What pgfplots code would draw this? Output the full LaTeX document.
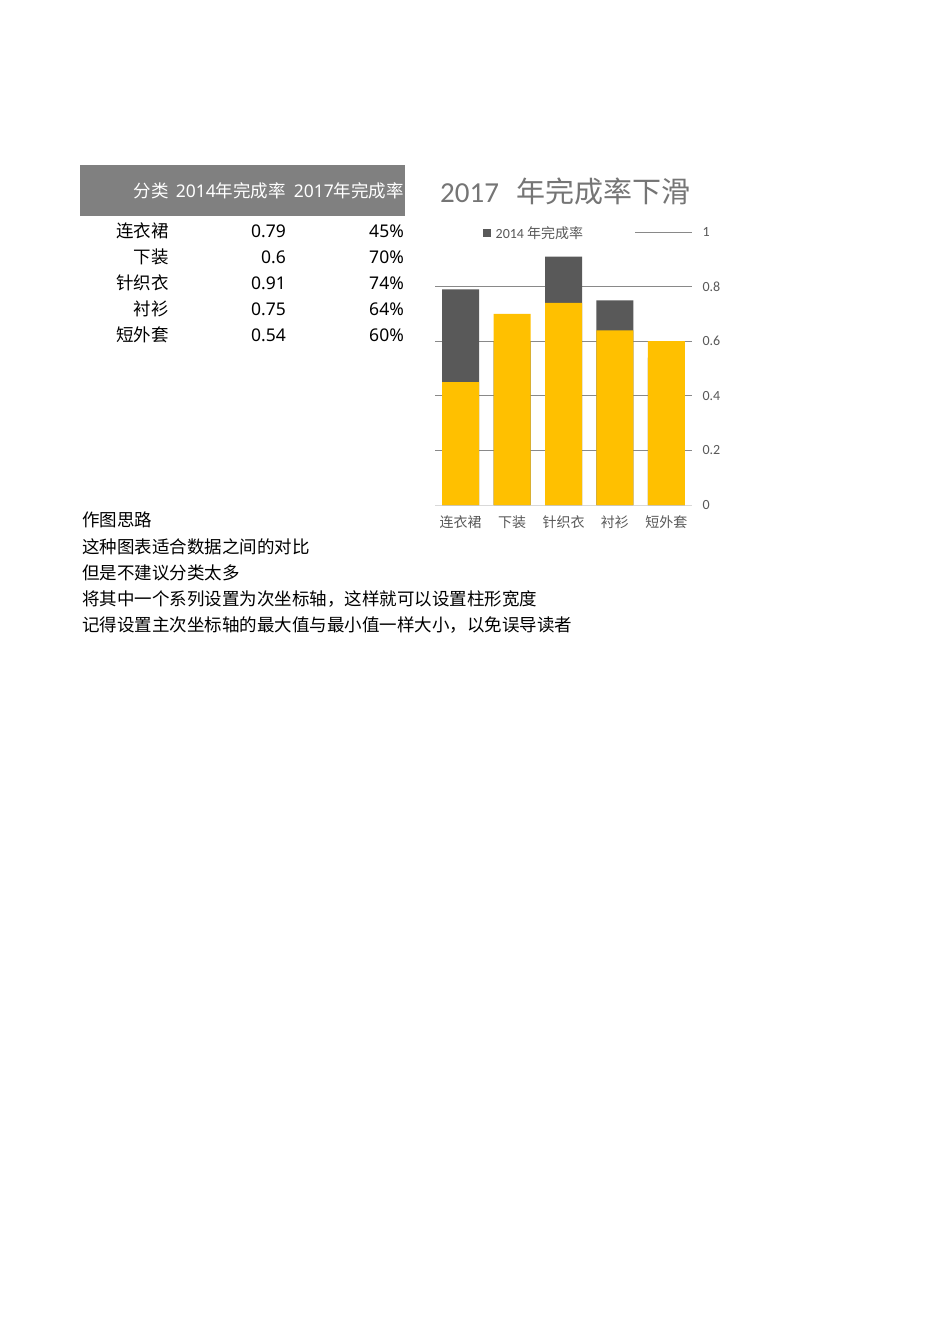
\documentclass[border=0pt]{standalone}
\usepackage{fontspec}
\setmainfont{Carlito}
\newfontfamily\cjk{Noto Sans CJK SC}
\newfontfamily\tabfont{Noto Sans}
\usepackage{pgfplots}
\pgfplotsset{compat=1.18}
\definecolor{bardark}{HTML}{595959}
\definecolor{baryellow}{HTML}{FFC000}
\definecolor{gridgray}{HTML}{898989}
\definecolor{basegray}{HTML}{D9D9D9}
\definecolor{labelgray}{HTML}{595959}
\definecolor{titlegray}{HTML}{757575}
\definecolor{headgray}{HTML}{808080}

\begin{document}
\begin{tikzpicture}
\path[use as bounding box, fill=white] (0pt,0pt) rectangle (950pt,-1344pt);

% table
\fill[headgray] (80pt,-165pt) rectangle (405pt,-216pt);
\begin{scope}[every node/.style={inner sep=0pt, font=\tabfont\fontsize{17.5}{20}\selectfont}]
\node[anchor=east, text=white] at (169pt,-191pt) {\cjk 分类};
\node[anchor=east, text=white] at (286pt,-191pt) {2014{\cjk 年完成率}};
\node[anchor=east, text=white] at (404pt,-191pt) {2017{\cjk 年完成率}};
\node[anchor=east] at (169pt,-231pt) {\cjk 连衣裙};
\node[anchor=east] at (169pt,-257pt) {\cjk 下装};
\node[anchor=east] at (169pt,-283pt) {\cjk 针织衣};
\node[anchor=east] at (169pt,-309pt) {\cjk 衬衫};
\node[anchor=east] at (169pt,-335pt) {\cjk 短外套};
\node[anchor=east] at (286pt,-231pt) {0.79};
\node[anchor=east] at (286pt,-257pt) {0.6};
\node[anchor=east] at (286pt,-283pt) {0.91};
\node[anchor=east] at (286pt,-309pt) {0.75};
\node[anchor=east] at (286pt,-335pt) {0.54};
\node[anchor=east] at (404pt,-231pt) {45\%};
\node[anchor=east] at (404pt,-257pt) {70\%};
\node[anchor=east] at (404pt,-283pt) {74\%};
\node[anchor=east] at (404pt,-309pt) {64\%};
\node[anchor=east] at (404pt,-335pt) {60\%};
% notes
\node[anchor=west] at (82pt,-520pt) {\cjk 作图思路};
\node[anchor=west] at (82pt,-547pt) {\cjk 这种图表适合数据之间的对比};
\node[anchor=west] at (82pt,-573pt) {\cjk 但是不建议分类太多};
\node[anchor=west] at (82pt,-599pt) {\cjk 将其中一个系列设置为次坐标轴，这样就可以设置柱形宽度};
\node[anchor=west] at (82pt,-625pt) {\cjk 记得设置主次坐标轴的最大值与最小值一样大小，以免误导读者};
\end{scope}

% chart title
\node[anchor=west, inner sep=0pt, text=titlegray, font=\fontsize{29}{32}\selectfont]
  at (440pt,-191pt) {2017\hspace{18pt}{\cjk 年完成率下滑}};

\begin{axis}[
    at={(435pt,-505pt)}, anchor=south west,
    scale only axis, width=257pt, height=273pt,
    xmin=-0.5, xmax=4.5, ymin=0, ymax=1,
    axis x line*=bottom, axis y line*=right,
    x axis line style={basegray, line width=0.8pt, -},
    y axis line style={draw=none},
    major tick length=0pt,
    xtick={0,1,2,3,4},
    xticklabels={{\cjk 连衣裙},{\cjk 下装},{\cjk 针织衣},{\cjk 衬衫},{\cjk 短外套}},
    ytick={0,0.2,0.4,0.6,0.8,1},
    ymajorgrids,
    grid style={gridgray, line width=0.8pt},
    ticklabel style={font=\fontsize{14}{16}\selectfont, text=labelgray},
    xticklabel style={yshift=-7pt},
    yticklabel style={xshift=7pt},
    /pgf/number format/assume math mode=true,
    legend style={at={(0.385,0.997)}, anchor=center, fill=white, draw=none,
        inner xsep=50pt, inner ysep=3pt,
        font=\fontsize{14}{16}\selectfont, text=labelgray},
    legend image code/.code={\fill[#1] (0pt,-4pt) rectangle (8pt,4pt);},
    legend cell align=left,
    /tikz/every odd column/.append style={column sep=3pt},
]
\addplot[ybar, bar width=37pt, bar shift=0pt, fill=bardark, draw=none]
  coordinates {(0,0.79) (1,0.6) (2,0.91) (3,0.75) (4,0.54)};
\addlegendentry{2014 {\cjk 年完成率}}
\addplot[ybar, bar width=37pt, bar shift=0pt, fill=baryellow, draw=none, forget plot]
  coordinates {(0,0.45) (1,0.70) (2,0.74) (3,0.64) (4,0.60)};
\end{axis}
\end{tikzpicture}
\end{document}
